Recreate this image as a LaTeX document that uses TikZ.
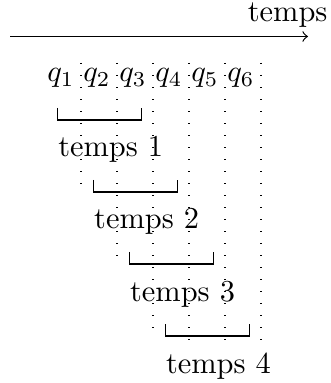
\documentclass[tikz,border=0pt]{standalone}
\usepackage{tikz}
\usetikzlibrary{calc}
\tikzset{
  sepline/.style={dash pattern=on 0.4pt off 3.55pt},
  slot/.style={anchor=base,inner sep=0pt},
  winlabel/.style={anchor=base west,inner sep=0pt},
}
\begin{document}
\begin{tikzpicture}[x=0.329pt,y=-0.329pt]
  \useasboundingbox (0,0) rectangle (330,383);
  % time axis
  \coordinate (t0) at (10,36.5);
  \coordinate (t1) at (308,36.5);
  \draw[->] (t0) -- (t1);
  \node[anchor=base east,inner sep=0pt] (temps) at (328,21.5) {temps};
  % quanta
  \foreach \i in {1,...,6}{
    \node[slot] (q\i) at ({61+36*(\i-1)},82) {$q_{\i}$};
  }
  % separators between quanta
  \foreach \i/\yb in {1/190,2/262,3/334,4/346,5/346,6/346}{
    \draw[sepline] ({81+36*(\i-1)},63) -- ({81+36*(\i-1)},\yb);
  }
  % sliding windows
  \foreach \k in {1,...,4}{
    \pgfmathsetmacro{\xl}{57.7+35.9*(\k-1)}
    \pgfmathsetmacro{\yw}{120+72*(\k-1)}
    \draw (\xl,{\yw-12}) -- (\xl,\yw) -- ({\xl+84},\yw) -- ({\xl+84},{\yw-12});
    \node[winlabel] (w\k) at (\xl,{\yw+37}) {temps \k};
  }
\end{tikzpicture}
\end{document}
